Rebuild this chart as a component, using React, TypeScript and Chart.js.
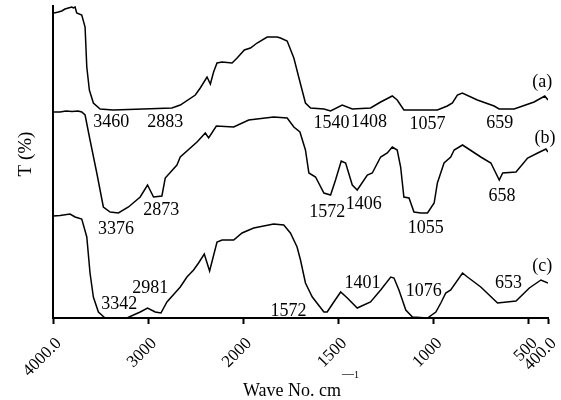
import React, { useEffect, useRef } from "react";
import { Chart, registerables } from "chart.js";

Chart.register(...registerables);

const FONT = '"Liberation Serif", "Times New Roman", serif';

// x-axis ticks (wavenumber, cm-1) and their labels
const tickWavenumbers = [4000, 3000, 2000, 1500, 1000, 500, 400];
const tickLabels = ["4000.0", "3000", "2000", "1500", "1000", "500", "400.0"];

// Spectrum (a)
const waveA = [3989, 3944, 3908, 3874, 3839, 3803, 3786, 3768, 3751, 3698, 3663, 3645, 3618, 3576, 3505, 3368, 3053, 2751, 2663, 2505, 2453, 2382, 2347, 2313, 2277, 2224, 2119, 2066, 1995, 1963, 1928, 1875, 1823, 1805, 1770, 1735, 1700, 1674, 1647, 1577, 1542, 1481, 1428, 1332, 1279, 1218, 1192, 1157, 981, 929, 902, 876, 850, 771, 683, 657, 578, 473, 417, 400];
const transA = [305, 306, 307, 309, 310, 311, 310, 311, 305, 303, 291, 251, 228, 215, 209, 208, 209, 210, 213, 223, 230, 241, 234, 246, 255, 256, 255, 260, 268, 270, 275, 281, 281, 280, 277, 260, 234, 215, 210, 209, 207, 213, 209, 210, 216, 222, 218, 208, 208, 212, 215, 223, 225, 218, 212, 209, 209, 216, 222, 218];

// Spectrum (b)
const waveB = [3989, 3926, 3863, 3800, 3737, 3698, 3663, 3611, 3540, 3471, 3400, 3313, 3207, 3084, 3007, 2944, 2856, 2821, 2698, 2663, 2487, 2400, 2365, 2284, 2102, 1972, 1841, 1770, 1735, 1703, 1674, 1656, 1621, 1577, 1542, 1516, 1486, 1463, 1428, 1402, 1349, 1323, 1279, 1244, 1218, 1192, 1174, 1157, 1130, 1104, 1068, 1033, 998, 981, 946, 911, 893, 849, 753, 700, 656, 638, 568, 507, 454, 411, 400];
const transB = [206, 206, 207, 206.5, 207, 206, 203, 178, 145, 111, 106, 105, 111, 121, 133, 121, 122, 140, 153, 161, 176, 185, 180, 192, 191, 198, 201, 200, 191, 186, 168, 145, 141, 125, 123, 138, 157, 155, 133, 128, 143, 145, 161, 165, 171, 168, 151, 121, 120, 106, 105, 105, 115, 135, 155, 161, 168, 173, 161, 155, 138, 145, 146, 160, 165, 169, 166];

// Spectrum (c)
const waveC = [3997, 3926, 3821, 3768, 3698, 3645, 3611, 3576, 3523, 3453, 3224, 3084, 3007, 2926, 2866, 2803, 2663, 2593, 2523, 2471, 2411, 2355, 2277, 2224, 2102, 2014, 1946, 1841, 1788, 1753, 1718, 1700, 1674, 1638, 1577, 1560, 1525, 1489, 1454, 1402, 1332, 1279, 1226, 1209, 1183, 1147, 1112, 1033, 989, 963, 937, 911, 849, 823, 753, 665, 568, 498, 437, 400];
const transC = [102, 102.5, 104, 101, 99, 81, 45, 21, 6, 0, 0, 6, 10, 6, 5, 16, 31, 41, 48, 55, 64, 47, 76, 78, 78, 85, 90, 94, 93, 85, 71, 58, 35, 21, 6, 6, 16, 26, 20, 10, 16, 28, 41, 40, 28, 8, 1, 0, 6, 15, 25, 28, 45, 41, 31, 15, 17, 30, 38, 35];

// Peak annotations: text, wavenumber anchor, transmittance anchor
const peakTexts = ["3460", "2883", "1540", "1408", "1057", "659", "(a)", "3376", "2873", "1572", "1406", "1055", "658", "(b)", "3342", "2981", "1572", "1401", "1076", "653", "(c)"];
const peakWaves = [3389, 2821, 1537, 1340, 1033, 653, 430, 3337, 2863, 1560, 1368, 1042, 642, 416, 3305, 2979, 1763, 1375, 1053, 607, 430];
const peakTrans = [197, 197, 196, 197, 195, 196, 237, 90, 109, 107, 115, 91, 123, 181, 15, 31, 8, 36, 28, 36, 53];

// Axis with 2x expansion below 2000 cm-1
const toT = (w: number) => (w >= 2000 ? 4000 - w : 2000 + 2 * (2000 - w));

const textPlugin = {
  id: "ftirText",
  afterDraw(chart: any) {
    const { ctx, chartArea } = chart;
    const xs = chart.scales.x;
    const ys = chart.scales.y;
    ctx.save();
    ctx.fillStyle = "#000";
    ctx.font = `18px ${FONT}`;
    ctx.textAlign = "center";
    ctx.textBaseline = "alphabetic";
    for (let i = 0; i < peakTexts.length; i++) {
      const px = xs.getPixelForValue(toT(peakWaves[i]));
      const py = ys.getPixelForValue(peakTrans[i]);
      ctx.fillText(peakTexts[i], px, py + 6);
    }
    // rotated x tick labels
    ctx.font = `17px ${FONT}`;
    ctx.textAlign = "right";
    for (let i = 0; i < tickWavenumbers.length; i++) {
      const px = xs.getPixelForValue(toT(tickWavenumbers[i]));
      ctx.save();
      ctx.translate(px + 9, chartArea.bottom + 26);
      ctx.rotate(-Math.PI / 4);
      ctx.fillText(tickLabels[i], 0, 0);
      ctx.restore();
    }
    // y title
    ctx.save();
    ctx.translate(chartArea.left - 28, (chartArea.top + chartArea.bottom) / 2 - 8);
    ctx.rotate(-Math.PI / 2);
    ctx.font = `19px ${FONT}`;
    ctx.textAlign = "center";
    ctx.fillText("T (%)", 0, 6);
    ctx.restore();
    // x title
    const main = "Wave No. cm";
    ctx.font = `18px ${FONT}`;
    const w1 = ctx.measureText(main).width;
    ctx.font = `12px ${FONT}`;
    const sup = "\u2014";
    const w2 = ctx.measureText(sup).width;
    ctx.font = `10px ${FONT}`;
    const w3 = ctx.measureText("1").width;
    const total = w1 + w2 + w3;
    const cx = (chartArea.left + chartArea.right) / 2;
    const base = chartArea.bottom + 78;
    let sx = cx - total / 2;
    ctx.textAlign = "left";
    ctx.font = `18px ${FONT}`;
    ctx.fillText(main, sx, base);
    sx += w1 + 1;
    ctx.font = `12px ${FONT}`;
    ctx.fillText(sup, sx, base - 19);
    ctx.font = `10px ${FONT}`;
    ctx.fillText("1", sx + w2, base - 18);
    ctx.restore();
  },
};

export default function App() {
  const ref = useRef<HTMLCanvasElement>(null);
  useEffect(() => {
    if (!ref.current) return;
    const mk = (ws: number[], ts: number[]) => ({
      data: ws.map((w, i) => ({ x: toT(w), y: ts[i] })),
      borderColor: "#000",
      borderWidth: 1.5,
      pointRadius: 0,
      tension: 0,
      fill: false,
    });
    const chart = new Chart(ref.current, {
      type: "line",
      data: {
        datasets: [mk(waveA, transA), mk(waveB, transB), mk(waveC, transC)] as any,
      },
      options: {
        responsive: false,
        animation: false,
        devicePixelRatio: 1,
        layout: { padding: { top: 6, right: 13, left: 0, bottom: 0 } },
        plugins: { legend: { display: false }, tooltip: { enabled: false } },
        scales: {
          x: {
            type: "linear",
            min: 0,
            max: toT(400),
            afterBuildTicks: (s: any) => {
              s.ticks = tickWavenumbers.map((w) => ({ value: toT(w) }));
            },
            afterFit: (s: any) => {
              s.height = 82;
              s.paddingLeft = 0;
              s.paddingRight = 0;
            },
            ticks: {
              display: false,
              autoSkip: false,
              callback: (_v: any, i: number) => tickLabels[i],
            },
            grid: {
              display: true,
              drawOnChartArea: false,
              drawTicks: true,
              tickLength: 6,
              tickWidth: 2,
              tickColor: "#000",
            },
            border: { display: true, color: "#000", width: 2 },
          },
          y: {
            type: "linear",
            min: 0,
            max: 312,
            afterFit: (s: any) => {
              s.width = 53;
            },
            ticks: { display: false },
            grid: { display: true, drawOnChartArea: false, drawTicks: false },
            border: { display: true, color: "#000", width: 2 },
          },
        },
      } as any,
      plugins: [textPlugin],
    });
    return () => chart.destroy();
  }, []);
  return (
    <div style={{ position: "fixed", left: 0, top: 0, width: 561, height: 400, background: "#fff" }}>
      <canvas ref={ref} width={561} height={400} style={{ display: "block" }} />
    </div>
  );
}
